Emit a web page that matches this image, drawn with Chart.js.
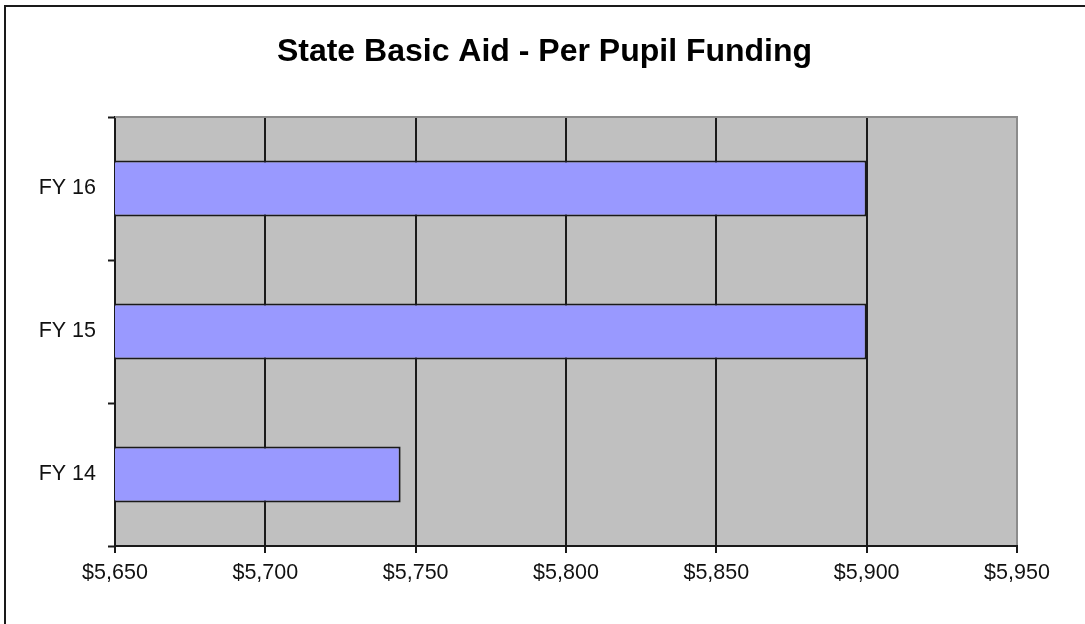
<!DOCTYPE html>
<html>
<head>
<meta charset="utf-8">
<script src="https://cdn.jsdelivr.net/npm/chart.js@4"></script>
<style>
html,body{margin:0;padding:0;background:#fff;}
#wrap{width:1085px;height:624px;position:relative;}
</style>
</head>
<body>
<div id="wrap"><canvas id="c" width="1085" height="624"></canvas></div>
<script>
const categories = ['FY 14', 'FY 15', 'FY 16'];
const fundingValues = [5745, 5900, 5900];
const axisMin = 5650;
const axisMax = 5950;
const axisStep = 50;
const chartTitle = 'State Basic Aid - Per Pupil Funding';

const FONT = "'Liberation Sans', Arial, sans-serif";

const backgroundPlugin = {
  id: 'bg',
  beforeDraw(chart) {
    const ctx = chart.ctx;
    const a = chart.chartArea;
    ctx.save();
    ctx.fillStyle = '#ffffff';
    ctx.fillRect(0, 0, chart.width, chart.height);
    ctx.strokeStyle = '#1a1a1a';
    ctx.lineWidth = 2;
    ctx.strokeRect(5, 6, chart.width + 20, chart.height + 20);
    ctx.fillStyle = '#c0c0c0';
    ctx.fillRect(a.left, a.top, a.right - a.left, a.bottom - a.top);
    ctx.restore();
  },
  beforeDatasetsDraw(chart) {
    const ctx = chart.ctx;
    const a = chart.chartArea;
    ctx.save();
    ctx.strokeStyle = '#8c8c8c';
    ctx.lineWidth = 2;
    ctx.beginPath();
    ctx.moveTo(a.left, a.top);
    ctx.lineTo(a.right + 1, a.top);
    ctx.stroke();
    ctx.restore();
  }
};

new Chart(document.getElementById('c'), {
  type: 'bar',
  data: {
    labels: categories,
    datasets: [{
      data: fundingValues,
      backgroundColor: '#9999ff',
      borderColor: '#1a1a1a',
      borderWidth: 2,
      borderSkipped: false,
      categoryPercentage: 1,
      barPercentage: 0.39
    }]
  },
  options: {
    indexAxis: 'y',
    responsive: false,
    animation: false,
    devicePixelRatio: 1,
    layout: { padding: { left: 4, right: 0, top: 0, bottom: 0 } },
    plugins: {
      legend: { display: false },
      tooltip: { enabled: false },
      title: {
        display: true,
        text: chartTitle,
        color: '#000',
        font: { family: FONT, size: 32, weight: 'bold', lineHeight: 1.2 },
        padding: { top: 33, bottom: 45.6 }
      }
    },
    scales: {
      x: {
        type: 'linear',
        min: axisMin,
        max: axisMax,
        afterFit(scale) { scale.height = 78; },
        ticks: {
          stepSize: axisStep,
          color: '#111',
          padding: 7,
          maxRotation: 0,
          font: { family: FONT, size: 21.5 },
          callback: (v) => '$' + Number(v).toLocaleString('en-US')
        },
        grid: {
          color: (c) => (c.tick && c.tick.value === axisMax) ? '#8c8c8c' : '#1a1a1a',
          lineWidth: 2,
          drawTicks: true,
          tickLength: 7,
          tickColor: '#1a1a1a',
          tickWidth: 2
        },
        border: { display: true, color: '#1a1a1a', width: 2 }
      },
      y: {
        reverse: true,
        afterFit(scale) { scale.width = 111; },
        ticks: {
          color: '#111',
          padding: 12,
          font: { family: FONT, size: 21.5 }
        },
        grid: {
          offset: true,
          drawOnChartArea: false,
          drawTicks: true,
          tickLength: 7,
          tickColor: '#1a1a1a',
          tickWidth: 2
        },
        border: { display: true, color: '#1a1a1a', width: 2 }
      },
      spacer: {
        type: 'linear',
        axis: 'y',
        position: 'right',
        display: true,
        afterFit(scale) { scale.width = 68; },
        ticks: { display: false },
        grid: { display: false, drawOnChartArea: false, drawTicks: false },
        border: { display: false }
      }
    }
  },
  plugins: [backgroundPlugin]
});
</script>
</body>
</html>
